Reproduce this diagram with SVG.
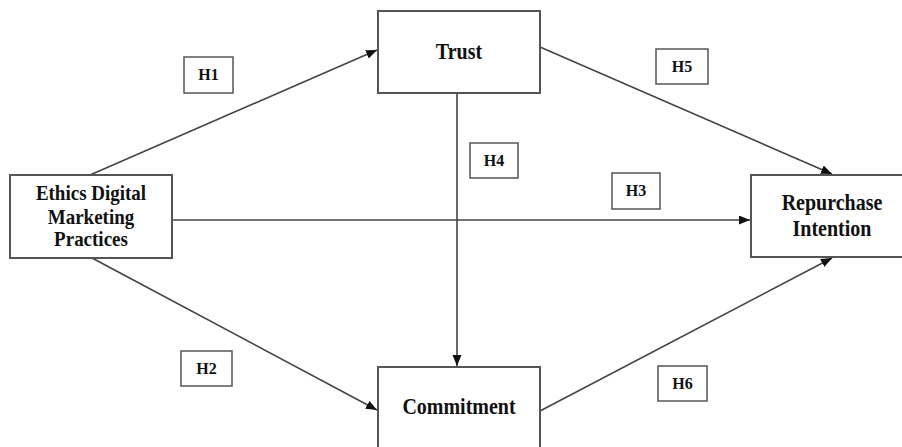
<svg xmlns="http://www.w3.org/2000/svg" width="902" height="447" viewBox="0 0 902 447">
<defs>
<marker id="arr" markerUnits="userSpaceOnUse" markerWidth="12" markerHeight="10" refX="11" refY="4.5" orient="auto">
<path d="M0,0 L11,4.5 L0,9 z" fill="#111"/>
</marker>
<style>
.box{fill:#fff;stroke:#555;stroke-width:2}
.hbox{fill:#fff;stroke:#555;stroke-width:1.5}
.lbl{font-family:"Liberation Serif","Times New Roman",serif;font-weight:bold;font-size:20px;fill:#111;text-anchor:middle}
.h{font-family:"Liberation Serif","Times New Roman",serif;font-weight:bold;font-size:16px;fill:#111;text-anchor:middle}
.c{stroke:#444;stroke-width:1.6;fill:none;marker-end:url(#arr)}
</style>
</defs>
<rect width="902" height="447" fill="#fff"/>
<g id="connectors">
<line class="c" x1="90" y1="175" x2="377" y2="50"/>
<line class="c" x1="92" y1="258" x2="377" y2="410"/>
<line class="c" x1="172" y1="220" x2="750" y2="220"/>
<line class="c" x1="457" y1="93" x2="457" y2="366"/>
<line class="c" x1="540" y1="47" x2="832" y2="174"/>
<line class="c" x1="540" y1="411" x2="832" y2="258"/>
</g>
<g id="trust">
<rect class="box" x="378" y="11" width="162" height="82"/>
<text class="lbl" transform="translate(459,59) scale(1,1.15)">Trust</text>
</g>
<g id="ethics">
<rect class="box" x="10" y="175" width="162" height="83"/>
<text class="lbl" style="font-size:19px" transform="translate(91,200) scale(1,1.12)">Ethics Digital</text>
<text class="lbl" style="font-size:19px" transform="translate(91,223.5) scale(1,1.12)">Marketing</text>
<text class="lbl" style="font-size:19px" transform="translate(91,246) scale(1,1.12)">Practices</text>
</g>
<g id="commitment">
<rect class="box" x="378" y="367" width="162" height="90"/>
<text class="lbl" transform="translate(459,414) scale(1,1.12)">Commitment</text>
</g>
<g id="repurchase">
<rect class="box" x="751" y="175" width="162" height="82"/>
<text class="lbl" transform="translate(832,210) scale(1,1.12)">Repurchase</text>
<text class="lbl" transform="translate(832,236) scale(1,1.12)">Intention</text>
</g>
<g id="h1"><rect class="hbox" x="184" y="57" width="49" height="36"/><text class="h" x="208.5" y="80">H1</text></g>
<g id="h2"><rect class="hbox" x="181" y="351" width="51" height="35"/><text class="h" x="206.5" y="374">H2</text></g>
<g id="h3"><rect class="hbox" x="612" y="173" width="48" height="36"/><text class="h" x="636" y="196">H3</text></g>
<g id="h4"><rect class="hbox" x="470" y="143" width="48" height="35"/><text class="h" x="494" y="166">H4</text></g>
<g id="h5"><rect class="hbox" x="656" y="49" width="52" height="35"/><text class="h" x="682" y="72">H5</text></g>
<g id="h6"><rect class="hbox" x="658" y="366" width="49" height="35"/><text class="h" x="682.5" y="389">H6</text></g>
</svg>
